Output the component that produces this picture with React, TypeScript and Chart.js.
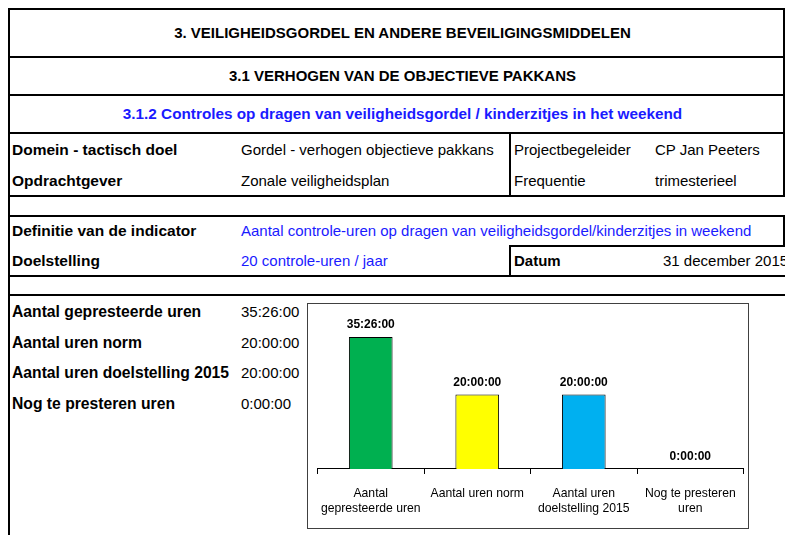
import React, { useEffect, useRef } from "react";
import { Chart, registerables } from "chart.js";

Chart.register(...registerables);

// ---- data ----
const categories: (string | string[])[] = [
  ["Aantal", "gepresteerde uren"],
  "Aantal uren norm",
  ["Aantal uren", "doelstelling 2015"],
  ["Nog te presteren", "uren"],
];
const rowLabels = [
  "Aantal gepresteerde uren",
  "Aantal uren norm",
  "Aantal uren doelstelling 2015",
  "Nog te presteren uren",
];
// hours (35:26:00, 20:00:00, 20:00:00, 0:00:00)
const hoursValues = [35.4333, 20, 20, 0];
const barColors = ["#00B050", "#FFFF00", "#00B0F0", "#FFFFFF"];
const yMax = 40;

const FONT = "'Liberation Sans', Arial, Helvetica, sans-serif";

function fmtHours(v: number): string {
  const totalMin = Math.round(v * 60);
  const h = Math.floor(totalMin / 60);
  const m = totalMin % 60;
  return `${h}:${String(m).padStart(2, "0")}:00`;
}

const valueLabelPlugin = {
  id: "valueLabels",
  afterDatasetsDraw(chart: any) {
    const ctx = chart.ctx;
    const meta = chart.getDatasetMeta(0);
    ctx.save();
    ctx.font = `bold 12px ${FONT}`;
    ctx.fillStyle = "#000";
    ctx.textAlign = "center";
    ctx.textBaseline = "middle";
    meta.data.forEach((bar: any, i: number) => {
      ctx.fillText(fmtHours(hoursValues[i]), bar.x, bar.y - 12);
    });
    ctx.restore();
  },
};

function HLine({ x1, x2, y, t = 2 }: { x1: number; x2: number; y: number; t?: number }) {
  return <div style={{ position: "absolute", left: x1, top: y - t / 2, width: x2 - x1, height: t, background: "#000" }} />;
}
function VLine({ y1, y2, x, t = 2 }: { y1: number; y2: number; x: number; t?: number }) {
  return <div style={{ position: "absolute", left: x - t / 2, top: y1, width: t, height: y2 - y1, background: "#000" }} />;
}
function T({
  x, y, text, bold = false, color = "#000", center = false, size = 15,
}: { x: number; y: number; text: string; bold?: boolean; color?: string; center?: boolean; size?: number }) {
  const style: React.CSSProperties = {
    position: "absolute",
    top: y - 10,
    height: 20,
    lineHeight: "20px",
    fontFamily: FONT,
    fontSize: size,
    fontWeight: bold ? "bold" : "normal",
    color,
    whiteSpace: "nowrap",
  };
  if (center) {
    style.left = 9;
    style.width = 787;
    style.textAlign = "center";
  } else {
    style.left = x;
  }
  return <div style={style}>{text}</div>;
}

function BarChart() {
  const ref = useRef<HTMLCanvasElement | null>(null);
  useEffect(() => {
    if (!ref.current) return;
    const chart = new Chart(ref.current, {
      type: "bar",
      data: {
        labels: categories,
        datasets: [
          {
            data: hoursValues,
            backgroundColor: barColors,
            borderColor: "#000",
            borderWidth: 1,
            barPercentage: 0.41,
            categoryPercentage: 1,
          },
        ],
      },
      options: {
        animation: false,
        responsive: false,
        maintainAspectRatio: false,
        layout: { padding: { left: 9, right: 3, top: 16, bottom: 0 } },
        plugins: { legend: { display: false }, tooltip: { enabled: false } },
        scales: {
          x: {
            offset: true,
            border: { display: true, color: "#000", width: 1 },
            grid: { display: true, offset: true, drawOnChartArea: false, drawTicks: true, tickLength: 5, color: "#000" },
            ticks: {
              color: "#000",
              padding: 12,
              maxRotation: 0,
              autoSkip: false,
              font: { family: FONT, size: 12.2, lineHeight: 1.23 },
            },
          },
          y: { display: false, min: 0, max: yMax },
        },
      },
      plugins: [valueLabelPlugin],
    });
    return () => chart.destroy();
  }, []);
  return (
    <canvas
      ref={ref}
      width={440}
      height={224}
      style={{ position: "absolute", left: 308, top: 304, width: 440, height: 224 }}
    />
  );
}

export default function App() {
  const rowYs = [312, 343, 373, 404];
  return (
    <div style={{ position: "fixed", left: 0, top: 0, width: 785, height: 535, overflow: "hidden", background: "#fff" }}>
      {/* grid lines */}
      <HLine x1={8} x2={785} y={9} />
      <HLine x1={8} x2={785} y={57} />
      <HLine x1={8} x2={785} y={95} />
      <HLine x1={8} x2={785} y={133} />
      <HLine x1={8} x2={785} y={196} />
      <HLine x1={8} x2={785} y={216} />
      <HLine x1={509} x2={785} y={246} />
      <HLine x1={8} x2={785} y={276} />
      <HLine x1={8} x2={785} y={295} />
      <VLine x={9} y1={8} y2={535} />
      <VLine x={510} y1={133} y2={196} />
      <VLine x={510} y1={246} y2={276} />
      <VLine x={784} y1={8} y2={197} />
      <VLine x={784} y1={215} y2={247} />

      <T x={0} y={33} text="3. VEILIGHEIDSGORDEL EN ANDERE BEVEILIGINGSMIDDELEN" bold center />
      <T x={0} y={76} text="3.1 VERHOGEN VAN DE OBJECTIEVE PAKKANS" bold center />
      <T x={0} y={114} text="3.1.2 Controles op dragen van veiligheidsgordel / kinderzitjes in het weekend" bold center color="#1a1aff" size={15.3} />

      <T x={12} y={150} text="Domein - tactisch doel" bold size={15.5} />
      <T x={241} y={150} text="Gordel - verhogen objectieve pakkans" />
      <T x={514} y={150} text="Projectbegeleider" />
      <T x={655} y={150} text="CP Jan Peeters" />

      <T x={12} y={181} text="Opdrachtgever" bold size={15.5} />
      <T x={241} y={181} text="Zonale veiligheidsplan" />
      <T x={514} y={181} text="Frequentie" />
      <T x={655} y={181} text="trimesterieel" />

      <T x={12} y={231} text="Definitie van de indicator" bold size={15.5} />
      <T x={241} y={231} text="Aantal controle-uren op dragen van veiligheidsgordel/kinderzitjes in weekend" color="#1a1aff" />

      <T x={12} y={261} text="Doelstelling" bold size={15.5} />
      <T x={241} y={261} text="20 controle-uren / jaar" color="#1a1aff" />
      <T x={514} y={261} text="Datum" bold />
      <T x={663} y={261} text="31 december 2015" />

      {rowLabels.map((lbl, i) => (
        <React.Fragment key={lbl}>
          <T x={12} y={rowYs[i]} text={lbl} bold size={15.7} />
          <T x={241} y={rowYs[i]} text={fmtHours(hoursValues[i])} />
        </React.Fragment>
      ))}

      {/* chart frame */}
      <div
        style={{
          position: "absolute",
          left: 307,
          top: 303,
          width: 442,
          height: 226,
          border: "1px solid #404040",
          boxSizing: "border-box",
        }}
      />
      <BarChart />
    </div>
  );
}
